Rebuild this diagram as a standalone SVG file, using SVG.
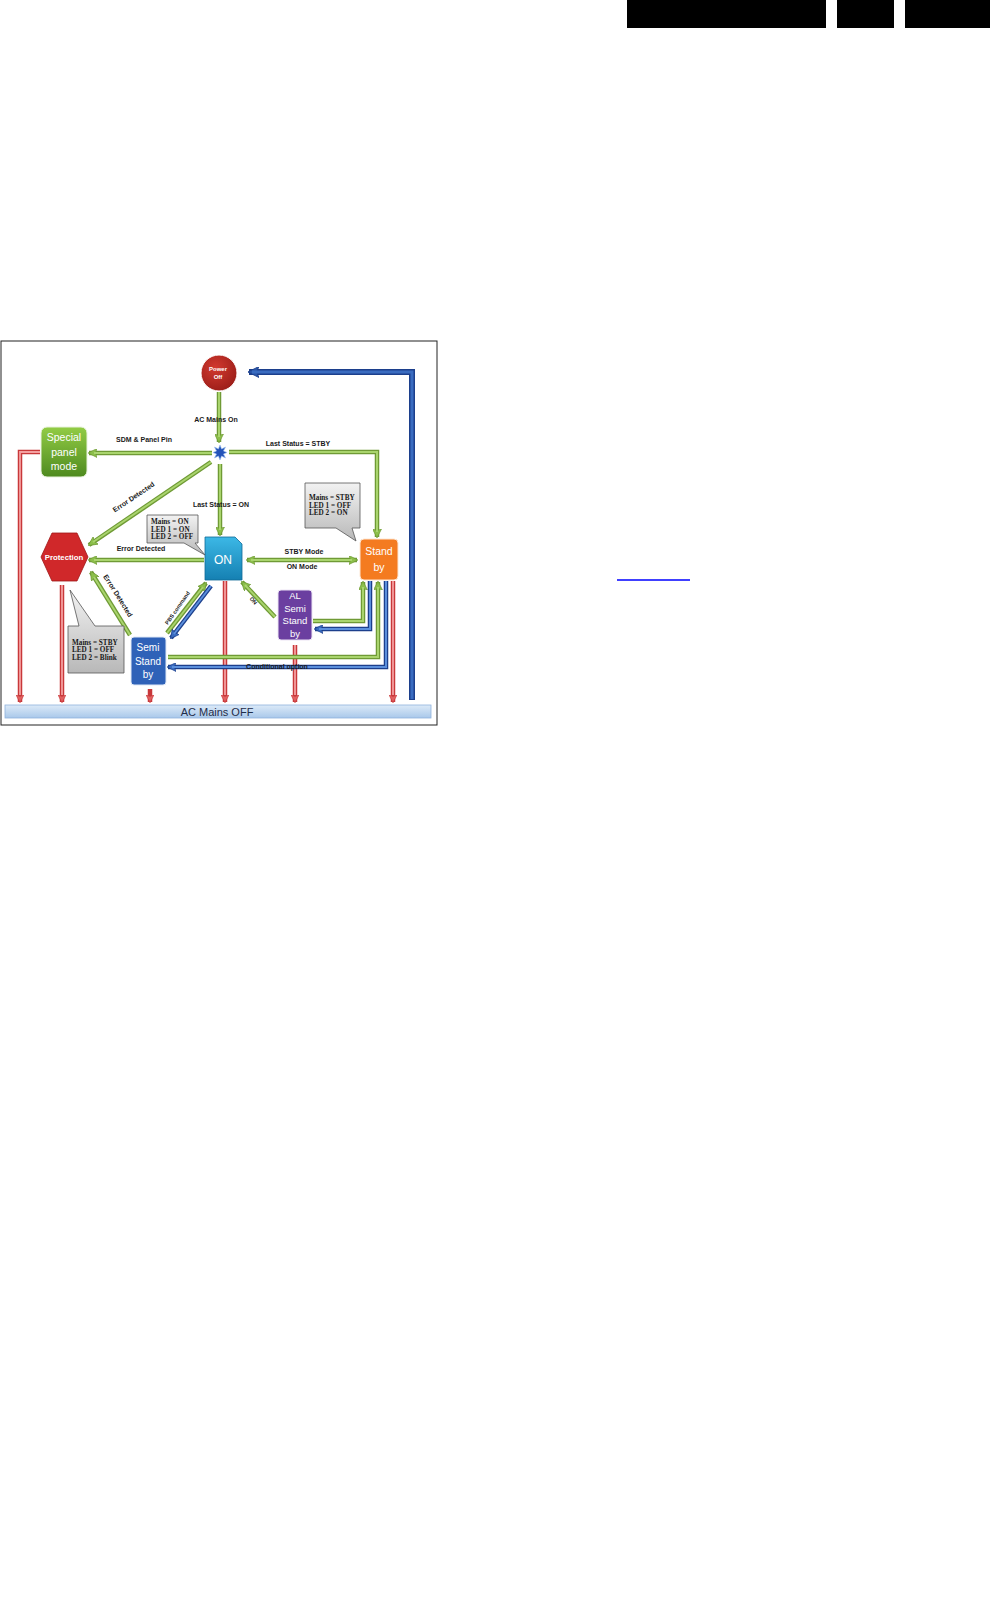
<svg xmlns="http://www.w3.org/2000/svg" width="990" height="1599" viewBox="0 0 990 1599">
<defs>
<style>
.g{fill:none;stroke:#6f9a35;stroke-width:4.5}
.gi{fill:none;stroke:#a9d46d;stroke-width:2}
.b{fill:none;stroke:#1c3f8c;stroke-width:4.5}
.bi{fill:none;stroke:#5b8fdc;stroke-width:2}
.bb{fill:none;stroke:#1c3f8c;stroke-width:6}
.bbi{fill:none;stroke:#3a6cc0;stroke-width:3}
.r{fill:none;stroke:#c8383a;stroke-width:4.5}
.ri{fill:none;stroke:#f4a0a0;stroke-width:1.8}
.lbl{font-family:"Liberation Sans",Arial,sans-serif;font-weight:bold;font-size:7px;fill:#1a1a1a;text-anchor:middle}
.nt{font-family:"Liberation Sans",Arial,sans-serif;fill:#fff;text-anchor:middle}
.co{font-family:"Liberation Serif","Times New Roman",serif;font-weight:bold;font-size:7.2px;fill:#1a1a1a}
.cb{fill:url(#gray);stroke:#555;stroke-width:0.8}
</style>
<linearGradient id="gray" x1="0" y1="0" x2="0" y2="1"><stop offset="0" stop-color="#f2f2f2"/><stop offset="1" stop-color="#b8b8b8"/></linearGradient>
<linearGradient id="grn" x1="0" y1="0" x2="0" y2="1"><stop offset="0" stop-color="#92cc45"/><stop offset="1" stop-color="#4e8a1f"/></linearGradient>
<linearGradient id="cyan" x1="0" y1="0" x2="0" y2="1"><stop offset="0" stop-color="#3cb8e6"/><stop offset="1" stop-color="#1580b2"/></linearGradient>
<radialGradient id="red" cx="0.4" cy="0.35" r="0.7"><stop offset="0" stop-color="#d2392f"/><stop offset="1" stop-color="#9a1d18"/></radialGradient>
<linearGradient id="bar" x1="0" y1="0" x2="0" y2="1"><stop offset="0" stop-color="#dceaf8"/><stop offset="1" stop-color="#a9c8ea"/></linearGradient>
<marker id="ag" viewBox="0 0 10 10" refX="9" refY="5" markerWidth="9" markerHeight="9" markerUnits="userSpaceOnUse" orient="auto-start-reverse"><path d="M0,0 L10,5 L0,10 L2,5 z" fill="#8cbf4a" stroke="#6f9a35" stroke-width="0.8"/></marker>
<marker id="ab" viewBox="0 0 10 10" refX="9" refY="5" markerWidth="9" markerHeight="9" markerUnits="userSpaceOnUse" orient="auto"><path d="M0,0 L10,5 L0,10 L2,5 z" fill="#3a6cc0" stroke="#1c3f8c" stroke-width="0.8"/></marker>
<marker id="abb" viewBox="0 0 10 10" refX="9" refY="5" markerWidth="11" markerHeight="11" markerUnits="userSpaceOnUse" orient="auto"><path d="M0,0 L10,5 L0,10 L2,5 z" fill="#2a56a8" stroke="#1c3f8c" stroke-width="0.8"/></marker>
<marker id="ar" viewBox="0 0 10 10" refX="9" refY="5" markerWidth="8" markerHeight="8" markerUnits="userSpaceOnUse" orient="auto"><path d="M0,0 L10,5 L0,10 L2,5 z" fill="#e06060" stroke="#c8383a" stroke-width="0.8"/></marker>
</defs>
<rect width="990" height="1599" fill="#fff"/>
<g id="header">
<rect x="627" y="0" width="199" height="28" fill="#000"/>
<rect x="837" y="0" width="57" height="28" fill="#000"/>
<rect x="905" y="0" width="85" height="28" fill="#000"/>
<line x1="617" y1="580" x2="690" y2="580" stroke="#0000ff" stroke-width="1.6"/>
</g>
<rect x="1" y="341" width="436" height="384" fill="#fff" stroke="#222" stroke-width="1"/>
<g id="ac-mains-off">
<rect x="5" y="705" width="426" height="13" fill="url(#bar)" stroke="#8fb2dd" stroke-width="0.8"/>
<text x="217" y="716" font-family="'Liberation Sans',Arial,sans-serif" font-size="11" fill="#1f2d4a" text-anchor="middle">AC Mains OFF</text>
</g>
<g id="connectors">
<path class="bb" d="M412,700 L412,372 L249,372" marker-end="url(#abb)"/>
<path class="bbi" d="M412,699 L412,372 L252,372"/>
<path class="r" d="M40,452 L20,452 L20,702" marker-end="url(#ar)"/>
<path class="ri" d="M40,452 L20,452 L20,695"/>
<path class="r" d="M62,585 L62,702" marker-end="url(#ar)"/>
<path class="ri" d="M62,585 L62,695"/>
<path class="r" d="M150,689 L150,702" marker-end="url(#ar)"/>
<path class="r" d="M225,581 L225,702" marker-end="url(#ar)"/>
<path class="ri" d="M225,581 L225,695"/>
<path class="r" d="M295,645 L295,702" marker-end="url(#ar)"/>
<path class="ri" d="M295,645 L295,695"/>
<path class="r" d="M393,581 L393,702" marker-end="url(#ar)"/>
<path class="ri" d="M393,581 L393,695"/>
<path class="g" d="M219,392 L219,442" marker-end="url(#ag)"/>
<path class="gi" d="M219,392 L219,437"/>
<path class="g" d="M212,453 L89,453" marker-end="url(#ag)"/>
<path class="gi" d="M212,453 L94,453"/>
<path class="g" d="M229,452 L377,452 L377,537" marker-end="url(#ag)"/>
<path class="gi" d="M229,452 L377,452 L377,532"/>
<path class="g" d="M220,464 L220,535" marker-end="url(#ag)"/>
<path class="gi" d="M220,464 L220,530"/>
<path class="g" d="M211,462 L89,545" marker-end="url(#ag)"/>
<path class="gi" d="M211,462 L93,542"/>
<path class="g" d="M204,560 L89,560" marker-end="url(#ag)"/>
<path class="gi" d="M204,560 L94,560"/>
<path class="g" d="M130,635 L91,572" marker-end="url(#ag)"/>
<path class="gi" d="M130,635 L94,577"/>
<path class="g" d="M167,633 L206,583" marker-end="url(#ag)"/>
<path class="gi" d="M167,633 L203,587"/>
<path class="b" d="M211,586 L171,638" marker-end="url(#ab)"/>
<path class="bi" d="M211,586 L174,634"/>
<path class="g" d="M247,560 L357,560" marker-start="url(#ag)" marker-end="url(#ag)"/>
<path class="gi" d="M251,560 L352,560"/>
<path class="g" d="M275,617 L242,582" marker-end="url(#ag)"/>
<path class="gi" d="M275,617 L245,585"/>
<path class="g" d="M313,621 L363,621 L363,582" marker-end="url(#ag)"/>
<path class="gi" d="M313,621 L363,621 L363,587"/>
<path class="b" d="M370,581 L370,629 L315,629" marker-end="url(#ab)"/>
<path class="bi" d="M370,581 L370,629 L319,629"/>
<path class="g" d="M168,657 L378,657 L378,582" marker-end="url(#ag)"/>
<path class="gi" d="M168,657 L378,657 L378,587"/>
<path class="b" d="M386,581 L386,667 L168,667" marker-end="url(#ab)"/>
<path class="bi" d="M386,581 L386,667 L172,667"/>
</g>
<g id="labels">
<text class="lbl" x="216" y="422">AC Mains On</text>
<text class="lbl" x="144" y="442">SDM &amp; Panel Pin</text>
<text class="lbl" x="298" y="446">Last Status = STBY</text>
<text class="lbl" x="221" y="507">Last Status = ON</text>
<text class="lbl" transform="translate(135,499) rotate(-34)">Error Detected</text>
<text class="lbl" x="141" y="551">Error Detected</text>
<text class="lbl" transform="translate(116,597) rotate(58)">Error Detected</text>
<text class="lbl" style="font-size:5.5px" transform="translate(179,609) rotate(-55)">PBS command</text>
<text class="lbl" style="font-size:5.5px" transform="translate(252,602) rotate(48)">ON</text>
<text class="lbl" x="304" y="554">STBY Mode</text>
<text class="lbl" x="302" y="569">ON Mode</text>
<text class="lbl" x="277" y="669">Conditional option</text>
</g>
<g id="power-off">
<circle cx="219" cy="373" r="18" fill="url(#red)" stroke="#fff" stroke-width="1"/>
<text class="nt" x="218" y="371" font-size="6" font-weight="bold">Power</text>
<text class="nt" x="218" y="379" font-size="6" font-weight="bold">Off</text>
</g>
<g id="junction">
<polygon points="220,445 221.6,449 225.5,447 223.5,451 227,452.5 223.5,454 225.5,458 221.6,456 220,460 218.4,456 214.5,458 216.5,454 213,452.5 216.5,451 214.5,447 218.4,449" fill="#2453b8" stroke="#9cc0f0" stroke-width="0.6"/>
</g>
<g id="special-panel-mode">
<rect x="41" y="427" width="46" height="50" rx="6" fill="url(#grn)" stroke="#e8f2dc" stroke-width="1"/>
<text class="nt" x="64" y="441" font-size="10.5">Special</text>
<text class="nt" x="64" y="455.5" font-size="10.5">panel</text>
<text class="nt" x="64" y="470" font-size="10.5">mode</text>
</g>
<g id="protection">
<polygon points="41,557 52,533 77,533 88,557 77,581 52,581" fill="#d0282a" stroke="#a01818" stroke-width="0.8"/>
<text class="nt" x="64" y="560" font-size="7.8" font-weight="bold">Protection</text>
</g>
<g id="on">
<path d="M205,537 H235 L242,544 V580 H205 Z" fill="url(#cyan)" stroke="#0f6a98" stroke-width="0.8"/>
<text class="nt" x="223" y="564" font-size="12">ON</text>
</g>
<g id="standby">
<rect x="360" y="539" width="38" height="41" rx="4" fill="#f47b20" stroke="#fde6d2" stroke-width="1"/>
<text class="nt" x="379" y="555" font-size="10.5">Stand</text>
<text class="nt" x="379" y="571" font-size="10.5">by</text>
</g>
<g id="semi-standby">
<rect x="131" y="637" width="35" height="48" rx="3" fill="#2f62b8" stroke="#dfe8f6" stroke-width="1"/>
<text class="nt" x="148" y="651" font-size="10">Semi</text>
<text class="nt" x="148" y="665" font-size="10">Stand</text>
<text class="nt" x="148" y="678" font-size="10">by</text>
</g>
<g id="al-semi-standby">
<rect x="278" y="590" width="34" height="50" rx="3" fill="#6b3fa0" stroke="#ece4f4" stroke-width="1"/>
<text class="nt" x="295" y="599" font-size="9.5">AL</text>
<text class="nt" x="295" y="611.5" font-size="9.5">Semi</text>
<text class="nt" x="295" y="624" font-size="9.5">Stand</text>
<text class="nt" x="295" y="636.5" font-size="9.5">by</text>
</g>
<g id="callout-on">
<path class="cb" d="M147,515 H198 V543 H195 L205,555 L184,543 H147 Z"/>
<text class="co" x="151" y="524">Mains = ON</text>
<text class="co" x="151" y="531.5">LED 1 = ON</text>
<text class="co" x="151" y="539">LED 2 = OFF</text>
</g>
<g id="callout-standby">
<path class="cb" d="M305,483 H360 V528 H352 L356,541 L336,528 H305 Z"/>
<text class="co" x="309" y="500">Mains = STBY</text>
<text class="co" x="309" y="507.5">LED 1 = OFF</text>
<text class="co" x="309" y="515">LED 2 = ON</text>
</g>
<g id="callout-protection">
<path class="cb" d="M68,626 H79 L70,590 L95,626 H124 V673 H68 Z"/>
<text class="co" x="72" y="645">Mains = STBY</text>
<text class="co" x="72" y="652">LED 1 = OFF</text>
<text class="co" x="72" y="659.5">LED 2 = Blink</text>
</g>
</svg>
